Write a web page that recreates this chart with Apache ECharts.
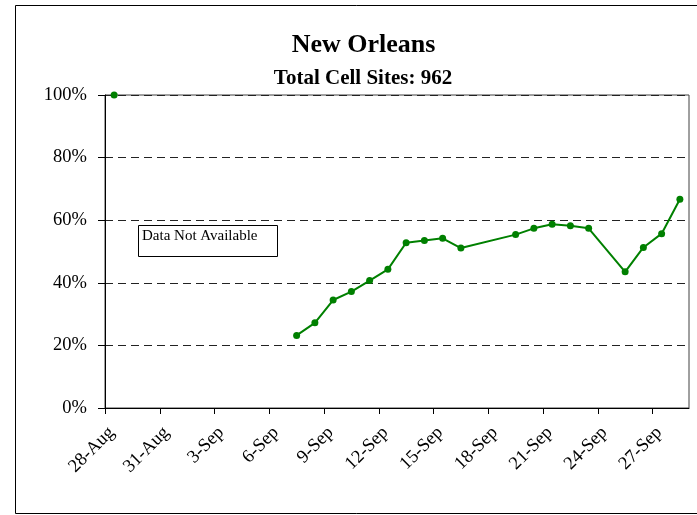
<!DOCTYPE html>
<html>
<head>
<meta charset="utf-8">
<script src="https://cdn.jsdelivr.net/npm/echarts@6/dist/echarts.min.js"></script>
<style>
  html, body { margin: 0; padding: 0; background: #fff; }
  #chart { width: 697px; height: 515px; }
</style>
</head>
<body>
<div id="chart"></div>
<script>
// ---- Data ----
const titleText = 'New Orleans';
const subtitleText = 'Total Cell Sites: 962';
const noteText = 'Data Not Available';

// Before the outage gap
const earlyDates = ['28-Aug'];
const earlyValues = [100];

// After data became available again
const lateDates = ['7-Sep', '8-Sep', '9-Sep', '10-Sep', '11-Sep', '12-Sep', '13-Sep', '14-Sep',
  '15-Sep', '16-Sep', '19-Sep', '20-Sep', '21-Sep', '22-Sep', '23-Sep', '25-Sep', '26-Sep',
  '27-Sep', '28-Sep'];
const lateValues = [23.2, 27.2, 34.5, 37.2, 40.7, 44.3, 52.8, 53.5, 54.2, 51.1, 55.4, 57.4,
  58.7, 58.2, 57.4, 43.5, 51.3, 55.7, 66.7];

const tickLabels = ['28-Aug', '31-Aug', '3-Sep', '6-Sep', '9-Sep', '12-Sep', '15-Sep',
  '18-Sep', '21-Sep', '24-Sep', '27-Sep'];
const axisStartDate = '28-Aug';
const axisDays = 32;          // 28-Aug .. 28-Sep, one slot per day

// ---- Helpers ----
const monthIdx = { Aug: 7, Sep: 8 };
function dayIndex(s) {
  const parts = s.split('-');
  const t = Date.UTC(2005, monthIdx[parts[1]], +parts[0]);
  const p0 = axisStartDate.split('-');
  const t0 = Date.UTC(2005, monthIdx[p0[1]], +p0[0]);
  return Math.round((t - t0) / 86400000);
}
// points sit in the middle of their day slot (Excel date axis, "between tick marks")
function toPoints(dates, values) {
  return dates.map((d, i) => [dayIndex(d) + 0.5, values[i]]);
}
const tickValues = tickLabels.map(dayIndex);
const labelByValue = {};
tickLabels.forEach(l => { labelByValue[dayIndex(l)] = l; });

const FONT = '"Liberation Serif", "Times New Roman", serif';
const GREEN = '#008000';

const chart = echarts.init(document.getElementById('chart'), null, { renderer: 'canvas' });

const lineStyleSeries = (name, data) => ({
  name: name,
  type: 'line',
  data: data,
  symbol: 'circle',
  symbolSize: 7,
  itemStyle: { color: GREEN },
  lineStyle: { color: GREEN, width: 2 },
  animation: false,
  z: 5
});

chart.setOption({
  animation: false,
  backgroundColor: '#fff',
  grid: {
    left: 105, right: 8, top: 95, bottom: 107,
    containLabel: false,
    outerBoundsMode: 'none',
    show: true,
    borderColor: '#404040',
    borderWidth: 1,
    backgroundColor: 'transparent'
  },
  xAxis: {
    type: 'value',
    min: 0,
    max: axisDays,
    splitLine: { show: false },
    axisLine: { show: true, onZero: false, lineStyle: { color: '#000', width: 1 } },
    axisTick: { show: true, length: 6, inside: false, customValues: tickValues,
      lineStyle: { color: '#000', width: 1 } },
    axisLabel: {
      customValues: tickValues,
      rotate: 45,
      margin: 15,
      verticalAlign: 'top',
      color: '#000',
      fontFamily: FONT,
      fontSize: 18.5,
      formatter: v => labelByValue[Math.round(v)] || ''
    }
  },
  yAxis: {
    type: 'value',
    min: 0,
    max: 100,
    interval: 20,
    axisLine: { show: true, lineStyle: { color: '#000', width: 1 } },
    axisTick: { show: true, length: 7, lineStyle: { color: '#000', width: 1 } },
    axisLabel: {
      margin: 18,
      color: '#000',
      fontFamily: FONT,
      fontSize: 18.5,
      formatter: v => v + '%'
    },
    splitLine: { show: true, lineStyle: { color: '#222', width: 1, type: [8, 5] } }
  },
  series: [
    lineStyleSeries('Aug', toPoints(earlyDates, earlyValues)),
    lineStyleSeries('Sep', toPoints(lateDates, lateValues))
  ],
  graphic: [
    { type: 'rect', silent: true, z: 0,
      shape: { x: 15.5, y: 5.5, width: 700, height: 508 },
      style: { fill: 'none', stroke: '#000', lineWidth: 1 } },
    { type: 'text', silent: true, x: 363.5, y: 45.5,
      style: { text: titleText, font: 'bold 26px ' + FONT, fill: '#000',
        align: 'center', verticalAlign: 'middle' } },
    { type: 'text', silent: true, x: 363, y: 78.5,
      style: { text: subtitleText, font: 'bold 21px ' + FONT, fill: '#000',
        align: 'center', verticalAlign: 'middle' } },
    { type: 'rect', silent: true, z: 10,
      shape: { x: 138.5, y: 225.5, width: 139, height: 31 },
      style: { fill: '#fff', stroke: '#000', lineWidth: 1 } },
    { type: 'text', silent: true, z: 11, x: 142, y: 236,
      style: { text: noteText, font: '15px ' + FONT, fill: '#000',
        align: 'left', verticalAlign: 'middle' } }
  ]
});
</script>
</body>
</html>
